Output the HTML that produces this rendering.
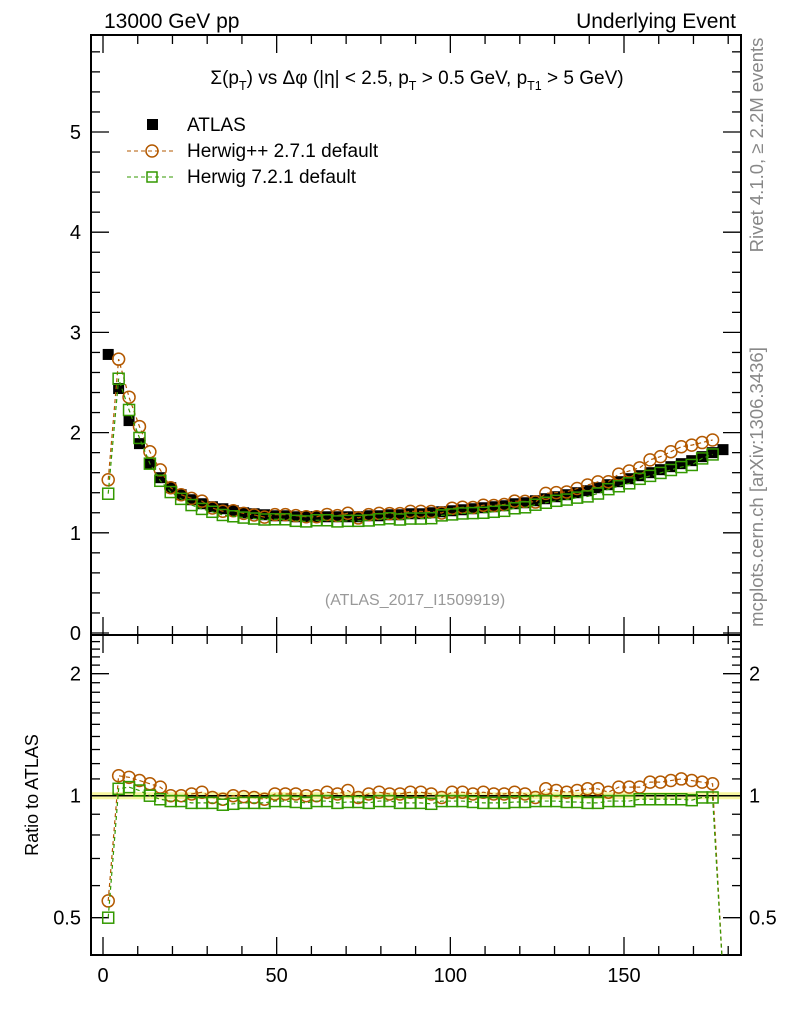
<!DOCTYPE html>
<html><head><meta charset="utf-8"><style>
body{margin:0;background:#fff;width:786px;height:1024px;overflow:hidden}
svg{font-family:"Liberation Sans",sans-serif}
</style></head><body>
<svg id="c" width="786" height="1024" xmlns="http://www.w3.org/2000/svg">
<text x="104" y="28" font-size="21">13000 GeV pp</text>
<text x="736" y="28" font-size="21" text-anchor="end">Underlying Event</text>
<text transform="translate(763,145) rotate(-90)" font-size="18.5" fill="#888" text-anchor="middle">Rivet 4.1.0, ≥ 2.2M events</text>
<text transform="translate(763,487) rotate(-90)" font-size="18.5" fill="#888" text-anchor="middle">mcplots.cern.ch [arXiv:1306.3436]</text>
<text x="417" y="84" font-size="19" text-anchor="middle">Σ(p<tspan font-size="12.5" dy="6">T</tspan><tspan dy="-6">) vs Δφ (|η| &lt; 2.5, p</tspan><tspan font-size="12.5" dy="6">T</tspan><tspan dy="-6"> &gt; 0.5 GeV, p</tspan><tspan font-size="12.5" dy="6">T1</tspan><tspan dy="-6"> &gt; 5 GeV)</tspan></text>
<text x="415" y="605" font-size="16" fill="#999" text-anchor="middle">(ATLAS_2017_I1509919)</text>
<text transform="translate(38,795) rotate(-90)" font-size="18" text-anchor="middle">Ratio to ATLAS</text>
<g>
<rect x="147" y="119" width="11" height="11" fill="#000"/>
<text x="187" y="131" font-size="19">ATLAS</text>
<line x1="127" y1="151" x2="176" y2="151" stroke="#b35900" stroke-dasharray="4,3"/>
<circle cx="152" cy="151" r="6" fill="none" stroke="#b35900" stroke-width="1.5"/>
<text x="187" y="157" font-size="19">Herwig++ 2.7.1 default</text>
<line x1="127" y1="177" x2="176" y2="177" stroke="#339900" stroke-dasharray="4,3"/>
<rect x="147" y="172" width="10" height="10" fill="none" stroke="#339900" stroke-width="1.5"/>
<text x="187" y="183" font-size="19">Herwig 7.2.1 default</text>
</g>
</svg>
<script>
const atlas=[2.78,2.44,2.12,1.89,1.69,1.55,1.45,1.38,1.33,1.29,1.26,1.24,1.22,1.20,1.19,1.18,1.17,1.17,1.16,1.16,1.16,1.16,1.16,1.16,1.16,1.17,1.17,1.18,1.18,1.19,1.19,1.20,1.21,1.22,1.23,1.24,1.25,1.26,1.27,1.29,1.30,1.32,1.34,1.36,1.38,1.40,1.42,1.45,1.48,1.51,1.54,1.57,1.60,1.63,1.66,1.69,1.72,1.76,1.80,1.83];
const ratioHpp=[0.55,1.12,1.11,1.09,1.07,1.05,1.0,1.0,1.01,1.02,0.99,0.98,1.0,0.995,0.99,0.98,1.01,1.01,1.01,1.0,1.0,1.02,1.01,1.03,0.99,1.01,1.02,1.01,1.01,1.02,1.02,1.01,0.99,1.02,1.02,1.01,1.02,1.01,1.01,1.02,1.01,0.99,1.04,1.03,1.02,1.03,1.04,1.04,1.02,1.05,1.05,1.05,1.08,1.08,1.09,1.1,1.09,1.08,1.07];
const ratioH7=[0.5,1.04,1.05,1.03,1.0,0.98,0.97,0.97,0.96,0.96,0.96,0.95,0.955,0.96,0.96,0.96,0.97,0.97,0.965,0.96,0.97,0.97,0.96,0.965,0.965,0.96,0.97,0.97,0.96,0.96,0.96,0.955,0.97,0.97,0.97,0.965,0.96,0.96,0.96,0.965,0.965,0.97,0.97,0.97,0.965,0.965,0.96,0.96,0.97,0.97,0.97,0.98,0.98,0.98,0.98,0.98,0.975,0.99,0.99];
const xTicks=[0,50,100,150];
const yTicks=[0,1,2,3,4,5];
const rTicks=[0.5,1,2];
const binW=3;
const NS="http://www.w3.org/2000/svg";
const svg=document.getElementById('c');
const L=91,R=741,T=35,MB=635,RB=955;
const X=v=>103+v*(624-103)/150;
const Y=v=>633-v*100.2;
const RY=v=>795.7-Math.log2(v)*122;
function mk(tag,a,p){const e=document.createElementNS(NS,tag);for(const k in a)e.setAttribute(k,a[k]);(p||svg).appendChild(e);return e;}
const band=mk('rect',{x:L,y:RY(1.02),width:R-L,height:RY(0.98)-RY(1.02),fill:'#f0f060',opacity:0.6});


const one=mk('line',{x1:L,x2:R,y1:RY(1),y2:RY(1),stroke:'#000','stroke-width':1.5});


const f1=mk('rect',{x:L,y:T,width:R-L,height:MB-T,fill:'none',stroke:'#000','stroke-width':2});


const f2=mk('rect',{x:L,y:MB,width:R-L,height:RB-MB,fill:'none',stroke:'#000','stroke-width':2});


for(let v=0;v<=180;v+=10){const maj=v%50===0;const len=maj?18:9;const x=X(v);
 for(const [yb,dir] of [[MB,-1],[T,1],[RB,-1],[MB,1]]) mk('line',{x1:x,x2:x,y1:yb,y2:yb+dir*len,stroke:'#000','stroke-width':1.3});}
xTicks.forEach(v=>{const t=mk('text',{x:X(v),y:982,'font-size':20,'text-anchor':'middle'});t.textContent=v;
 
 });
for(let i=0;i<=30;i++){const v=i*0.2;const y=Y(v);if(y<T-1)continue;const maj=i%5===0;const len=maj?18:9;
 mk('line',{x1:L,x2:L+len,y1:y,y2:y,stroke:'#000','stroke-width':1.3});mk('line',{x1:R,x2:R-len,y1:y,y2:y,stroke:'#000','stroke-width':1.3});}
yTicks.forEach(v=>{const t=mk('text',{x:81,y:Y(v)+7,'font-size':20,'text-anchor':'end'});t.textContent=v;
 
 });
const rt=[0.4,0.5,0.6,0.7,0.8,0.9,1,1.1,1.2,1.3,1.4,1.5,1.6,1.7,1.8,1.9,2,2.1,2.2,2.3,2.4];
rt.forEach(v=>{const y=RY(v);if(y<MB||y>RB)return;const maj=rTicks.includes(v);const len=maj?18:9;
 mk('line',{x1:L,x2:L+len,y1:y,y2:y,stroke:'#000','stroke-width':1.3});mk('line',{x1:R,x2:R-len,y1:y,y2:y,stroke:'#000','stroke-width':1.3});});
rTicks.forEach(v=>{for(const [x,a] of [[81,'end'],[749,'start']]){const t=mk('text',{x:x,y:RY(v)+7,'font-size':20,'text-anchor':a});t.textContent=v;
 
 }});
const cx=i=>X(binW*i+binW/2);
function series(vals,yf,color,shape,name,tail){
 const g=mk('g',{});
 
 
 let d=vals.map((v,i)=>(i?'L':'M')+cx(i)+','+yf(v)).join('');
 if(tail)d+='L'+cx(vals.length)+','+(RB+20);
 mk('path',{d:d,fill:'none',stroke:color,'stroke-width':1.2,'stroke-dasharray':'4,3'},g);
 vals.forEach((v,i)=>{const x=cx(i),y=yf(v);let m;
  if(y<T||y>RB)return;
  if(shape==='c')m=mk('circle',{cx:x,cy:y,r:6,fill:'none',stroke:color,'stroke-width':1.5},g);
  else m=mk('rect',{x:x-5.5,y:y-5.5,width:11,height:11,fill:'none',stroke:color,'stroke-width':1.5},g);
  
  });
 return g;}
const cp=mk('clipPath',{id:'rc'});mk('rect',{x:L,y:MB,width:R-L,height:RB-MB},cp);
const ga=mk('g',{});


atlas.forEach((v,i)=>{const m=mk('rect',{x:cx(i)-5.5,y:Y(v)-5.5,width:11,height:11,fill:'#000'},ga);
 
 });
series(ratioHpp.map((r,i)=>r*atlas[i]),Y,'#b35900','c','herwigpp-series',false);
series(ratioH7.map((r,i)=>r*atlas[i]),Y,'#339900','s','herwig7-series',false);
const g1=series(ratioHpp,RY,'#b35900','c','herwigpp-ratio',true);g1.setAttribute('clip-path','url(#rc)');
const g2=series(ratioH7,RY,'#339900','s','herwig7-ratio',true);g2.setAttribute('clip-path','url(#rc)');
</script>
</body></html>
